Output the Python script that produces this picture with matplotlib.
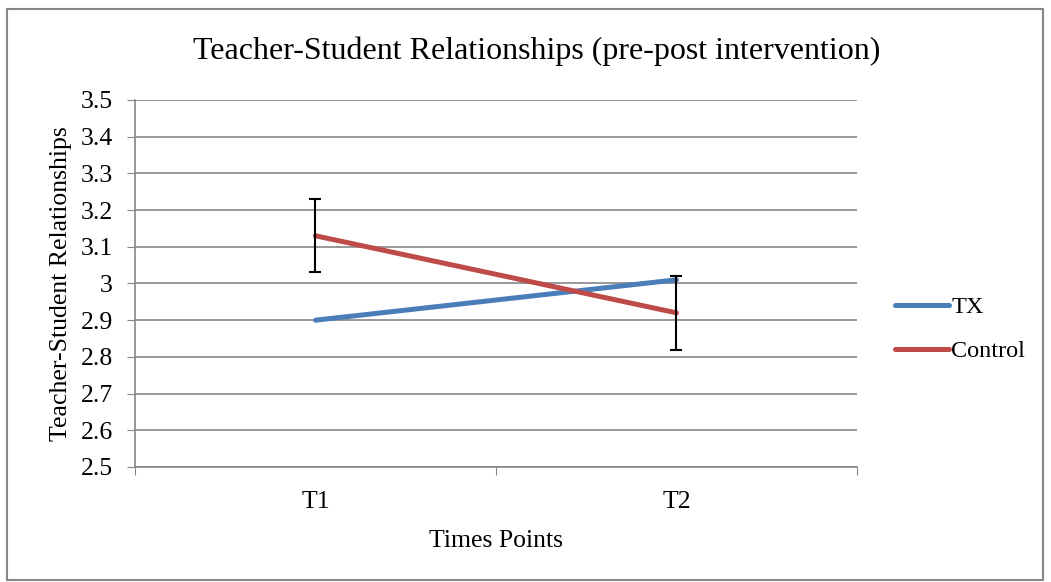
import matplotlib.pyplot as plt
import numpy as np
from matplotlib.patches import Rectangle

# data
time_points = ["T1", "T2"]
tx_vals = [2.90, 3.01]
control_vals = [3.13, 2.92]
control_err = [0.10, 0.10]
y_ticks = [2.5, 2.6, 2.7, 2.8, 2.9, 3.0, 3.1, 3.2, 3.3, 3.4, 3.5]
y_tick_labels = ["2.5", "2.6", "2.7", "2.8", "2.9", "3", "3.1", "3.2", "3.3", "3.4", "3.5"]

plt.rcParams['font.family'] = ['Liberation Serif', 'DejaVu Serif']

fig = plt.figure(figsize=(10.51, 5.82), dpi=100)
ax = fig.add_axes([0.1284, 0.1976, 0.687, 0.6306])

grey = "#868686"
fs = 18.5
x = np.arange(len(time_points)) + 0.5

ax.plot(x, tx_vals, color="#4A7EBB", lw=3.6, solid_capstyle="round", label="TX", zorder=3)
ax.plot(x, control_vals, color="#BE4B48", lw=3.6, solid_capstyle="round", label="Control", zorder=3)
ax.errorbar(x, control_vals, yerr=control_err, fmt="none", ecolor="black",
            elinewidth=1.5, capsize=4.5, capthick=1.5, zorder=4)

ax.set_xlim(0, 2)
ax.set_ylim(2.5, 3.5)
ax.set_yticks(y_ticks)
ax.set_yticklabels(y_tick_labels, fontsize=fs)
ax.set_xticks([0, 1, 2])
ax.set_xticklabels([])
ax.set_xticks(x, minor=True)
ax.set_xticklabels(time_points, minor=True, fontsize=fs)
ax.tick_params(axis="x", which="minor", length=0, pad=17.5)
ax.tick_params(axis="x", which="major", length=6, color=grey)
ax.tick_params(axis="y", length=6, color=grey, pad=10)

ax.grid(axis="y", color=grey, lw=1.2)
ax.set_axisbelow(True)
for side in ["top", "right"]:
    ax.spines[side].set_visible(False)
for side in ["left", "bottom"]:
    ax.spines[side].set_color(grey)
    ax.spines[side].set_linewidth(1.2)

ax.set_xlabel("Times Points", fontsize=fs, labelpad=12)
ax.set_ylabel("Teacher-Student Relationships", fontsize=fs, labelpad=6)
fig.text(0.511, 0.912, "Teacher-Student Relationships (pre-post intervention)",
         ha="center", va="center", fontsize=23)

fig.legend(loc="center left", bbox_to_anchor=(0.831, 0.434), frameon=False,
           fontsize=17.5, handlelength=2.2, handletextpad=0.1, labelspacing=0.9)

# outer chart border
fig.patches.append(Rectangle((0.0067, 0.003), 0.986, 0.981, transform=fig.transFigure,
                             fill=False, edgecolor=grey, lw=1.5))

fig.savefig("out.png", dpi=100)
